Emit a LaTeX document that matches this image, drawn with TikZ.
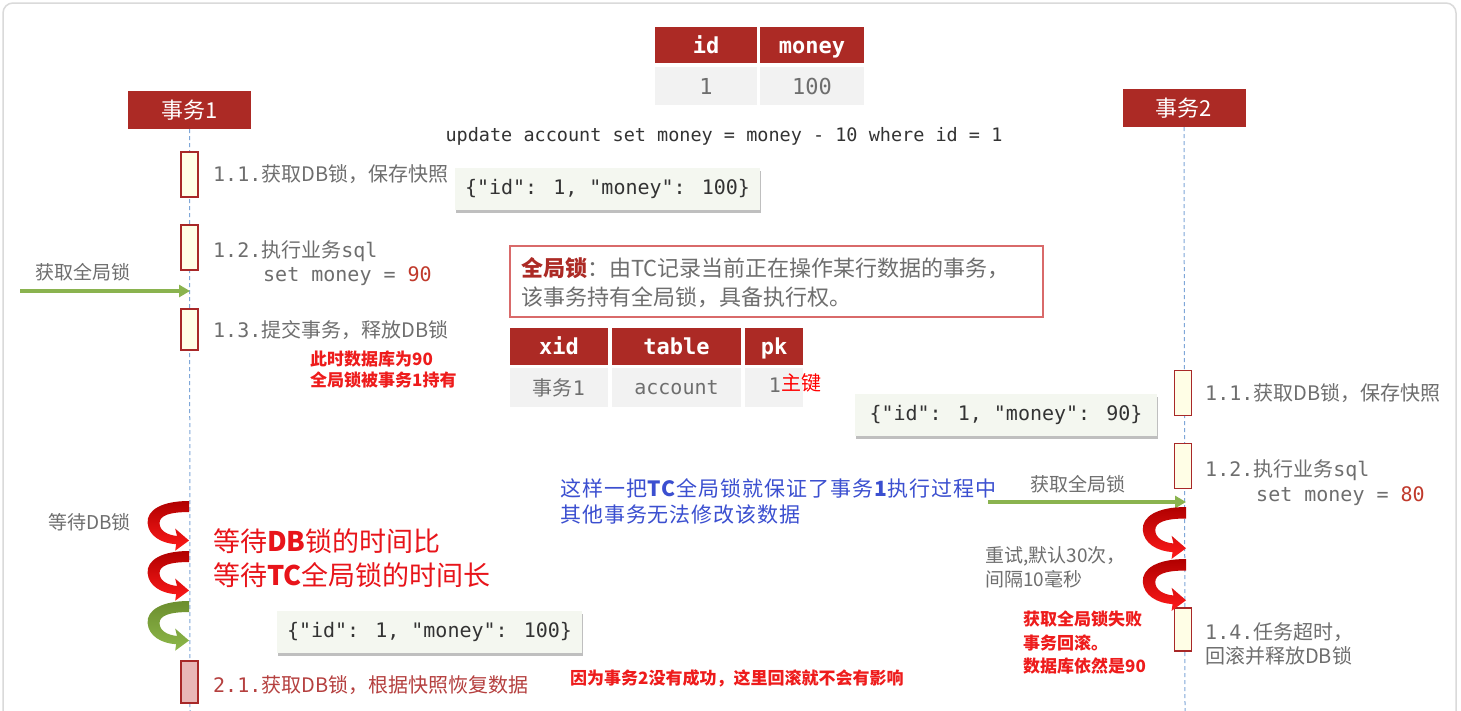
\documentclass[tikz,border=0pt]{standalone}
\usepackage{fontspec}
\setmainfont{Noto Sans CJK SC}
\newfontfamily\mono{DejaVu Sans Mono}
\usetikzlibrary{shadows,arrows.meta}
\definecolor{hdrred}{HTML}{AC2A25}
\definecolor{actfill}{HTML}{FFFEE6}
\definecolor{actdraw}{HTML}{A82828}
\definecolor{lgray}{HTML}{6E6E6E}
\definecolor{rowfill}{HTML}{F2F2F2}
\definecolor{jsonfill}{HTML}{F4F7F0}
\definecolor{garrowc}{HTML}{8AB34F}
\definecolor{bluetxt}{HTML}{3B4FD0}
\definecolor{brightred}{HTML}{E8141A}
\definecolor{boldred}{HTML}{EE1C1C}
\definecolor{lockdraw}{HTML}{D96A6A}
\definecolor{numred}{HTML}{C0392B}
\definecolor{darktxt}{HTML}{B5403F}
\definecolor{pinkfill}{HTML}{E9B7B7}
\definecolor{lifec}{HTML}{7FA7D8}
\definecolor{framec}{HTML}{DADADA}
\definecolor{uredtop}{HTML}{B00000}
\definecolor{uredbot}{HTML}{FF1A1A}
\definecolor{ugreentop}{HTML}{6C8E2E}
\definecolor{ugreenbot}{HTML}{8DB84A}
\tikzset{
  lbl/.style={inner sep=0, anchor=west, text=lgray, font=\fontsize{20}{24}\selectfont},
  hdrcell/.style={fill=hdrred, inner sep=0, text=white, text height=16pt, text depth=0pt, font=\fontsize{22}{26}\selectfont\mono\bfseries},
  rowcell/.style={fill=rowfill, inner sep=0, text=lgray, font=\fontsize{20}{24}\selectfont},
  partbox/.style={fill=hdrred, inner sep=0, minimum width=123, minimum height=38, text=white, font=\fontsize{22}{26}\selectfont},
  actbox/.style={fill=actfill, draw=actdraw, line width=1.8pt, inner sep=0, minimum width=17, minimum height=45},
  life/.style={draw=lifec, line width=1pt, dash pattern=on 4pt off 3pt},
  jsonbox/.style={fill=jsonfill, inner sep=0, minimum width=305, minimum height=42, text=black!80, font=\fontsize{20}{24}\selectfont\mono,
     drop shadow={shadow xshift=1pt, shadow yshift=-3pt, fill=black, opacity=0.25}},
  garrow/.style={draw=garrowc, line width=4pt, -{Triangle[length=11pt,width=12pt]}},
  redbold/.style={inner sep=0, anchor=west, text=boldred, font=\fontsize{17}{21}\selectfont\bfseries, align=left},
  uturn/.pic={
    \path[pic actions] (0,0) .. controls (-30,0) and (-46,10) .. (-45,24)
      .. controls (-44,38) and (-30,46) .. (-14,47) -- (-15,54) -- (0,43) -- (-15,30) -- (-13,38)
      .. controls (-24,37) and (-32,32) .. (-32,24)
      .. controls (-32,16) and (-22,12) .. (0,12) -- cycle;
  },
  redturn/.style={top color=uredtop, bottom color=uredbot, draw=none},
  greenturn/.style={top color=ugreentop, bottom color=ugreenbot, draw=none}
}
\begin{document}
\begin{tikzpicture}[x=1pt,y=-1pt]
\useasboundingbox (0,0) rectangle (1461,710);
\fill[white] (0,0) rectangle (1461,710);
\draw[framec, line width=1.5pt, rounded corners=10pt] (3,3) rectangle (1456,760);

% top table
\node[hdrcell, minimum width=102, minimum height=36] (hid) at (706,45) {id};
\node[hdrcell, minimum width=104, minimum height=36] (hmoney) at (812,45) {money};
\node[rowcell, minimum width=102, minimum height=38, font=\fontsize{22}{26}\selectfont\mono] (rid) at (706,86) {1};
\node[rowcell, minimum width=104, minimum height=38, font=\fontsize{22}{26}\selectfont\mono] (rmoney) at (812,86) {100};

\node[inner sep=0, text=black!80, font=\fontsize{18.5}{22}\selectfont\mono] (sql) at (724,136) {update account set money = money - 10 where id = 1};

% participants
\node[partbox] (p1) at (189.5,110) {事务1};
\node[partbox] (p2) at (1184,108) {事务2};
\coordinate (p1end) at (190,712);
\coordinate (p2end) at (1185,712);
\draw[life] (p1.south) -- (p1end);
\draw[life] (p2.south) -- (p2end);

% left activations
\node[actbox] (a11) at (189.5,174.5) {};
\node[actbox] (a12) at (189.5,247.5) {};
\node[actbox, minimum height=41] (a13) at (189.5,329.5) {};
\node[actbox, fill=pinkfill, minimum height=42] (a21) at (189.5,682) {};

\node[lbl] (t11) at (213,174) {{\mono 1.1.}获取DB锁，保存快照};
\node[lbl] (t12) at (213,251) {{\mono 1.2.}执行业务{\mono sql}};
\node[lbl, font=\fontsize{20}{24}\selectfont\mono] (t12b) at (263,276) {set money = \textcolor{numred}{90}};
\node[lbl] (t13) at (213,330) {{\mono 1.3.}提交事务，释放DB锁};
\node[redbold] (r13) at (310,370) {此时数据库为90\\全局锁被事务1持有};

\node[lbl, font=\fontsize{19}{23}\selectfont] (g1l) at (35,272) {获取全局锁};
\coordinate (g1s) at (20,291);
\coordinate (g1e) at (190,291);
\draw[garrow] (g1s) -- (g1e);

\node[jsonbox] (j1) at (607.5,189) {\{"id": 1, "money": 100\}};

% global lock box
\node[draw=lockdraw, line width=1.2pt, fill=white, minimum width=533, minimum height=71, inner sep=0] (lock) at (776.5,281.5) {};
\node[inner sep=0, anchor=west, text=lgray, font=\fontsize{22}{26}\selectfont] (lock1) at (521,268) {\textcolor{hdrred}{\bfseries 全局锁}：由TC记录当前正在操作某行数据的事务，};
\node[inner sep=0, anchor=west, text=lgray, font=\fontsize{22}{26}\selectfont] (lock2) at (521,297) {该事务持有全局锁，具备执行权。};

% xid table
\node[hdrcell, minimum width=98, minimum height=37] (hxid) at (559,346.5) {xid};
\node[hdrcell, minimum width=129, minimum height=37] (htable) at (676.5,346.5) {table};
\node[hdrcell, minimum width=58, minimum height=37] (hpk) at (774,346.5) {pk};
\node[rowcell, minimum width=98, minimum height=39] (rxid) at (559,387.5) {事务{\mono 1}};
\node[rowcell, minimum width=129, minimum height=39, font=\fontsize{20}{24}\selectfont\mono] (rtable) at (676.5,387.5) {account};
\node[rowcell, minimum width=58, minimum height=39] (rpk) at (774,387.5) {};
\node[inner sep=0, anchor=east, text=lgray, font=\fontsize{20}{24}\selectfont\mono] (rpk1) at (781,385) {1};
\node[inner sep=0, anchor=west, text=red, font=\fontsize{20}{24}\selectfont] (zhujian) at (781,383) {主键};

% right side
\node[actbox] (b11) at (1183,393) {};
\node[actbox] (b12) at (1183,466) {};
\node[actbox, minimum height=43] (b14) at (1183,629.5) {};
\node[lbl] (s11) at (1205,393) {{\mono 1.1.}获取DB锁，保存快照};
\node[lbl] (s12) at (1205,470) {{\mono 1.2.}执行业务{\mono sql}};
\node[lbl, font=\fontsize{20}{24}\selectfont\mono] (s12b) at (1256,496) {set money = \textcolor{numred}{80}};
\node[lbl, align=left] (s14) at (1205,644) {{\mono 1.4.}任务超时，\\回滚并释放DB锁};

\node[jsonbox, minimum width=302] (j2) at (1006,415) {\{"id": 1, "money": 90\}};

\node[lbl, font=\fontsize{19}{23}\selectfont] (g2l) at (1030,484) {获取全局锁};
\coordinate (g2s) at (988,502);
\coordinate (g2e) at (1186,502);
\draw[garrow] (g2s) -- (g2e);

\node[inner sep=0, anchor=west, text=bluetxt, font=\fontsize{21}{26}\selectfont\addfontfeature{LetterSpace=4.5}, align=left] (blue) at (560,501) {这样一把\textbf{TC}全局锁就保证了事务\textbf{1}执行过程中\\其他事务无法修改该数据};

\pic[redturn, scale=0.96] (ru1) at (1186,507) {uturn};
\pic[redturn, scale=0.96] (ru2) at (1186,559) {uturn};
\node[lbl, font=\fontsize{19}{24}\selectfont, align=left] (retry) at (985,567) {重试,默认30次，\\间隔10毫秒};
\node[redbold, font=\fontsize{17}{23.5}\selectfont\bfseries] (fail) at (1023,643) {获取全局锁失败\\事务回滚。\\数据库依然是90};

% left bottom
\pic[redturn, scale=0.92] (lu1) at (189,501) {uturn};
\pic[redturn, scale=0.92] (lu2) at (189,551) {uturn};
\pic[greenturn, scale=0.92] (lu3) at (189,601) {uturn};
\node[lbl, font=\fontsize{19}{23}\selectfont] (wait) at (48,522) {等待DB锁};
\node[inner sep=0, anchor=west, text=brightred, font=\fontsize{27}{34}\selectfont, align=left] (bigred) at (213,558) {等待\textbf{DB}锁的时间比\\等待\textbf{TC}全局锁的时间长};

\node[jsonbox] (j3) at (429.5,632) {\{"id": 1, "money": 100\}};
\node[lbl, text=darktxt] (t21) at (213,685) {{\mono 2.1.}获取DB锁，根据快照恢复数据};
\node[redbold] (note) at (570,678) {因为事务2没有成功，这里回滚就不会有影响};
\end{tikzpicture}
\end{document}
